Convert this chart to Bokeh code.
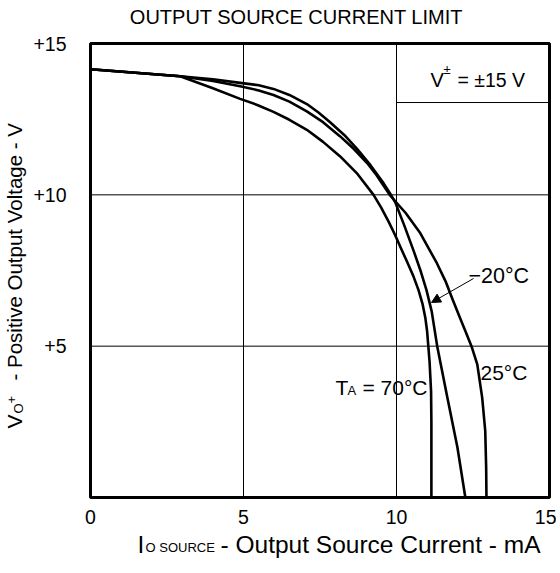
import math
from bokeh.plotting import figure
from bokeh.models import Label, Arrow, NormalHead, Range1d, FixedTicker, LinearAxis
from bokeh.embed import file_html
from bokeh.resources import INLINE

# ---------------- data ----------------
# I_O source current (mA) vs V_O+ (V) for three ambient temperatures
x_m20 = [0, 2.93, 4.0, 4.89, 5.5, 5.98, 6.5, 7.07, 7.45, 7.83, 8.3, 8.71, 9.15, 9.58, 9.80, 9.96, 10.25, 10.56, 10.8, 10.98, 11.15, 11.33, 11.66, 11.99, 12.25]
y_m20 = [14.15, 13.92, 13.82, 13.70, 13.62, 13.50, 13.30, 13.00, 12.72, 12.40, 11.97, 11.52, 10.98, 10.38, 10.03, 9.75, 9.0, 8.15, 7.45, 6.85, 6.15, 5.0, 3.31, 1.66, 0.0]

x_25 = [0, 2.93, 4.0, 4.89, 5.5, 5.98, 6.5, 7.07, 7.6, 8.16, 8.6, 9.04, 9.35, 9.58, 9.80, 10.3, 10.78, 11.32, 11.6, 11.85, 12.07, 12.25, 12.45, 12.64, 12.80, 12.90, 12.93, 12.94]
y_25 = [14.15, 13.92, 13.76, 13.59, 13.45, 13.30, 13.08, 12.76, 12.40, 11.93, 11.52, 11.05, 10.65, 10.30, 9.97, 9.40, 8.73, 7.74, 7.15, 6.5, 5.95, 5.5, 5.0, 4.4, 3.3, 2.2, 1.0, 0.0]

x_70 = [0, 2.93, 4.0, 4.89, 5.45, 5.98, 6.5, 7.07, 7.6, 8.16, 8.70, 9.25, 9.5, 9.75, 9.95, 10.12, 10.35, 10.56, 10.72, 10.85, 10.94, 11.0, 11.08, 11.13, 11.14, 11.14]
y_70 = [14.15, 13.92, 13.52, 13.17, 12.97, 12.74, 12.48, 12.15, 11.75, 11.27, 10.72, 10.0, 9.58, 9.10, 8.68, 8.29, 7.78, 7.29, 6.85, 6.40, 5.95, 5.5, 4.5, 3.5, 2.5, 0.0]

x_limits = [0, 15]
y_limits = [0, 15]
x_ticks = [0, 5, 10, 15]
y_ticks = [5, 10, 15]
y_tick_labels = {5: "+5", 10: "+10", 15: "+15"}
grid_vals = [5, 10]
supply_box_bottom = 13.05   # lower edge of the "V± = ±15 V" box (V)
supply_box_left = 10        # left edge of the box (mA)

FONT = "Liberation Sans"
W, H = 556, 565
# page pixel box of the plotting area
BOX_L, BOX_R, BOX_T, BOX_B = 90, 549, 43, 497
kx = (BOX_R - BOX_L) / (x_limits[1] - x_limits[0])
ky = (BOX_B - BOX_T) / (y_limits[1] - y_limits[0])
xr = Range1d(x_limits[0] - BOX_L / kx, x_limits[1] + (W - BOX_R) / kx)
yr = Range1d(y_limits[0] - (H - BOX_B) / ky, y_limits[1] + BOX_T / ky)

p = figure(width=W, height=H, output_backend="svg", toolbar_location=None,
           x_range=xr, y_range=yr, title=None, x_axis_location=None, y_axis_location=None,
           min_border=0)
p.min_border_left = p.min_border_right = p.min_border_top = p.min_border_bottom = 0
p.background_fill_color = "white"
p.border_fill_color = "white"
p.outline_line_color = None
p.xgrid.visible = False
p.ygrid.visible = False

xaxis = LinearAxis(ticker=FixedTicker(ticks=x_ticks), fixed_location=y_limits[0])
yaxis = LinearAxis(ticker=FixedTicker(ticks=y_ticks), fixed_location=x_limits[0],
                   major_label_overrides=y_tick_labels)
for ax in (xaxis, yaxis):
    ax.axis_line_color = None
    ax.major_tick_line_color = None
    ax.minor_tick_line_color = None
    ax.major_label_text_font = FONT
    ax.major_label_text_font_size = "19.5px"
    ax.major_label_text_color = "black"
xaxis.major_label_standoff = 6
yaxis.major_label_standoff = 18
p.add_layout(xaxis, "below")
p.add_layout(yaxis, "left")

# grid lines
p.segment(x0=grid_vals, y0=[y_limits[0]] * len(grid_vals), x1=grid_vals, y1=[y_limits[1]] * len(grid_vals),
          line_color="black", line_width=1)
p.segment(x0=[x_limits[0]] * len(grid_vals), y0=grid_vals, x1=[x_limits[1]] * len(grid_vals), y1=grid_vals,
          line_color="black", line_width=1)
# supply box lower edge
p.segment(x0=[supply_box_left], y0=[supply_box_bottom], x1=[x_limits[1]], y1=[supply_box_bottom],
          line_color="black", line_width=1)

for xs, ys in ((x_m20, y_m20), (x_25, y_25), (x_70, y_70)):
    p.line(xs, ys, line_color="black", line_width=2.6, line_join="round")

# plot frame
p.quad(left=[x_limits[0]], right=[x_limits[1]], bottom=[y_limits[0]], top=[y_limits[1]],
       fill_color=None, line_color="black", line_width=3)


def lab(text, px, py, size, angle=0, align="left"):
    p.add_layout(Label(x=px, y=H - py, x_units="screen", y_units="screen", text=text,
                       text_font=FONT, text_font_size=f"{size}px", text_color="black",
                       text_align=align, text_baseline="alphabetic", angle=angle))


# title
lab("OUTPUT SOURCE CURRENT LIMIT", 296, 16.5, 20, align="center")

# x-axis label
lab("I", 137, 543.5, 24.5)
lab("O SOURCE", 145, 547, 13)
lab("- Output Source Current - mA", 220, 543.5, 24.5)

# y-axis label (rotated)
lab("V", 13.5, 428, 21, angle=math.pi / 2)
lab("O", 18, 413, 13, angle=math.pi / 2)
lab("+", 10.5, 403, 13, angle=math.pi / 2)
lab("- Positive Output Voltage - V", 13.5, 380, 20.5, angle=math.pi / 2)

# supply box text
lab("V", 430, 79, 20)
lab("±", 443, 68.5, 13)
lab("= ±15 V", 457, 79, 19.5)

# curve labels
lab("\u221220°C", 468, 275, 21.5)
lab("25°C", 480, 372, 21)
lab("T", 335, 387, 21)
lab("A", 347, 390, 13)
lab("= 70°C", 362, 387, 21)

p.add_layout(Arrow(x_start=473, y_start=H - 278, x_end=431, y_end=H - 302,
                   start_units="screen", end_units="screen", line_color="black", line_width=1,
                   end=NormalHead(size=9, fill_color="black", line_color="black")))

open("out.html", "w").write(file_html(p, INLINE))
